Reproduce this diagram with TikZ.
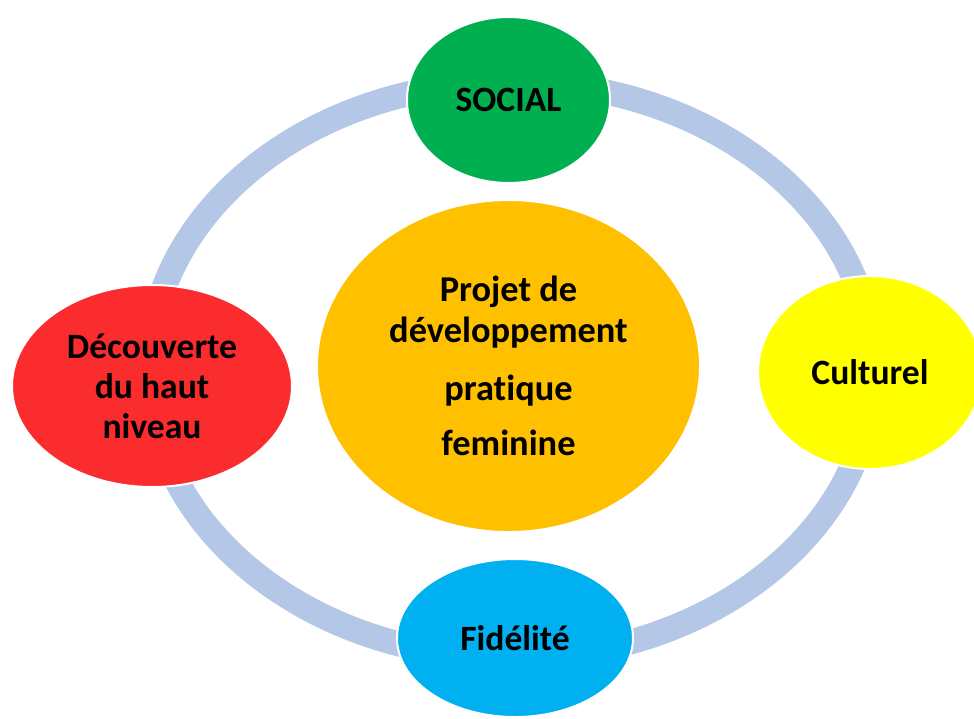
\documentclass[tikz,border=0pt]{standalone}
\usepackage{fontspec}
\setmainfont{Carlito}[Ligatures=NoCommon]
\usetikzlibrary{shapes.geometric}

\definecolor{ringblue}{RGB}{180,199,231}
\definecolor{socialgreen}{RGB}{0,176,80}
\definecolor{projetorange}{RGB}{255,192,0}
\definecolor{culturelyellow}{RGB}{255,255,0}
\definecolor{fideliteblue}{RGB}{0,176,240}
\definecolor{decouvertered}{RGB}{251,44,45}

\tikzset{
  bubble/.style={ellipse, draw=white, line width=1.5pt, inner sep=0pt, align=center, text=black,
    font=\bfseries\fontsize{26.7}{30}\selectfont},
}

\begin{document}
\begin{tikzpicture}[x=0.75pt,y=0.75pt,yscale=-1,xscale=1]
\useasboundingbox (0,0) rectangle (974,718);

%Shape: Ellipse (ring)
\draw [color=ringblue, line width=18.75pt] (511,370) ellipse (362 and 288);

%Shape: Ellipse (centre)
\node [bubble, fill=projetorange, minimum width=287.25pt, minimum height=249pt,
  font=\bfseries\fontsize{27.3}{30.75}\selectfont] (projet) at (508.5,366)
  {Projet de\\développement\\[12.75pt]pratique\\[10.5pt]feminine};

%Shape: Ellipse
\node [bubble, fill=socialgreen, minimum width=152.25pt, minimum height=124.5pt] (social) at (508.5,100) {SOCIAL};
%Shape: Ellipse
\node [bubble, fill=culturelyellow, minimum width=168pt, minimum height=144.75pt] (culturel) at (870,372.5) {Culturel};
%Shape: Ellipse
\node [bubble, fill=fideliteblue, minimum width=177pt, minimum height=118.5pt] (fidelite) at (515,638) {Fidélité};
%Shape: Ellipse
\node [bubble, fill=decouvertered, minimum width=210pt, minimum height=151.5pt] (decouverte) at (152,386) {Découverte\\du haut\\niveau};

\end{tikzpicture}
\end{document}
